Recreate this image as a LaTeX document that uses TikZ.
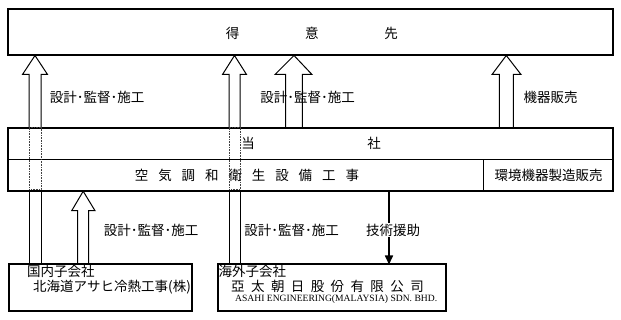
\documentclass[tikz,border=0pt]{standalone}
\usepackage{fontspec}
\setmainfont{Noto Sans CJK JP}
\newfontfamily\latinserif{Liberation Serif}
\usetikzlibrary{arrows.meta}
\begin{document}
\begin{tikzpicture}[x=1pt,y=-1pt,
  box/.style={draw,line width=2pt,inner sep=0pt,outer sep=0pt},
  lbl/.style={inner sep=0pt,font=\fontsize{13.5}{14}\selectfont},
  blk/.style={line width=1pt,line join=miter},
  dots/.style={line width=0.8pt,dash pattern=on 0.8pt off 0.8pt,black!75},
  thin/.style={line width=1pt}]
\useasboundingbox (0,0) rectangle (621,320);
% boxes
\node[box,minimum width=605pt,minimum height=46pt] (cust) at (310.5,32.5) {};
\node[box,minimum width=605pt,minimum height=63.5pt] (mid) at (310.5,159.5) {};
\node[box,minimum width=183pt,minimum height=46.5pt] (b1) at (100.5,287.75) {};
\node[box,minimum width=228pt,minimum height=46.5pt] (b2) at (332,287.75) {};
\draw[thin] (mid.west) -- (mid.east);
\draw[thin] (483,0 |- mid.center) -- (483,0 |- mid.south);
% texts in boxes
\node[lbl] (tcust) at (311.75,33.5) {得\hspace{65.75pt}意\hspace{65.75pt}先};
\node[lbl] (tmid) at (311,143.5) {当\hspace{112.5pt}社};
\node[lbl] (twork) at (247,175) {空\hspace{9.9pt}気\hspace{9.9pt}調\hspace{9.9pt}和\hspace{9.9pt}衛\hspace{9.9pt}生\hspace{9.9pt}設\hspace{9.9pt}備\hspace{9.9pt}工\hspace{9.9pt}事};
\node[lbl] (tmake) at (548.5,175) {環境機器製造販売};
\node[lbl,anchor=west] (c1) at (27,271.5) {国内子会社};
\node[lbl,anchor=west] (c2) at (33,287) {北海道アサヒ冷熱工事(株)};
\node[lbl,anchor=west] (c3) at (218.5,271.5) {海外子会社};
\node[lbl,anchor=west] (c4) at (231,286.5) {亞\hspace{6.4pt}太\hspace{6.4pt}朝\hspace{6.4pt}日\hspace{6.4pt}股\hspace{6.4pt}份\hspace{6.4pt}有\hspace{6.4pt}限\hspace{6.4pt}公\hspace{6.4pt}司};
\node[inner sep=0pt,anchor=base west,font=\latinserif\fontsize{9.6}{10}\selectfont] (c5) at (235,301.5) {ASAHI ENGINEERING(MALAYSIA) SDN. BHD.};
% arrow labels
\node[lbl] (l1) at (97,97.5) {設計･監督･施工};
\node[lbl] (l2) at (307.5,97) {設計･監督･施工};
\node[lbl] (l3) at (550.5,97) {機器販売};
\node[lbl] (l4) at (151,230) {設計･監督･施工};
\node[lbl] (l5) at (291.5,230) {設計･監督･施工};
% A1 long left arrow
\draw[blk] (29,0 |- b1.north) -- (29,0 |- mid.south) (41,0 |- mid.south) -- (41,0 |- b1.north);
\draw[blk] (29,0 |- mid.north) -- (29,74.5) -- (22.5,74.5) -- (35,0 |- cust.south) -- (47.5,74.5) -- (41,74.5) -- (41,0 |- mid.north);
\draw[dots] (29,0 |- mid.north) rectangle (41,189.8);
% A2 long middle arrow
\draw[blk] (229,0 |- b2.north) -- (229,0 |- mid.south) (240,0 |- mid.south) -- (240,0 |- b2.north);
\draw[blk] (229,0 |- mid.north) -- (229,74.5) -- (222.5,74.5) -- (234.5,0 |- cust.south) -- (246.5,74.5) -- (240,74.5) -- (240,0 |- mid.north);
\draw[dots] (229,0 |- mid.north) rectangle (240,189.8);
% A3
\draw[blk] (285.7,0 |- mid.north) -- (285.7,74.5) -- (275,74.5) -- (294,0 |- cust.south) -- (312,74.5) -- (302.3,74.5) -- (302.3,0 |- mid.north);
% A4
\draw[blk] (499.3,0 |- mid.north) -- (499.3,74.5) -- (492,74.5) -- (506.3,0 |- cust.south) -- (521,74.5) -- (513.3,74.5) -- (513.3,0 |- mid.north);
% A5
\draw[blk] (77.7,0 |- b1.north) -- (77.7,210.7) -- (71.7,210.7) -- (83.2,0 |- mid.south) -- (95,210.7) -- (88.7,210.7) -- (88.7,0 |- b1.north);
% technical assistance
\draw[line width=1.6pt,-{Triangle[width=8pt,length=9pt]}] (389,0 |- mid.south) -- (389,0 |- b2.north);
\node[lbl,fill=white,inner xsep=0pt,inner ysep=1pt] (l6) at (393,230) {技術援助};
\end{tikzpicture}
\end{document}
